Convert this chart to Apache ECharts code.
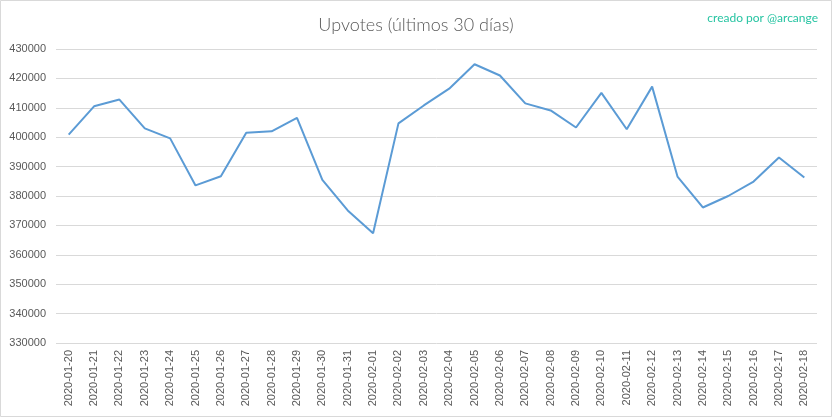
<!DOCTYPE html>
<html>
<head>
<meta charset="utf-8">
<script src="https://cdn.jsdelivr.net/npm/echarts@6/dist/echarts.min.js"></script>
<style>html,body{margin:0;padding:0;background:#fff}#c{width:832px;height:417px}</style>
</head>
<body>
<div id="c"></div>
<script>
const categories = ["2020-01-20","2020-01-21","2020-01-22","2020-01-23","2020-01-24","2020-01-25","2020-01-26","2020-01-27","2020-01-28","2020-01-29","2020-01-30","2020-01-31","2020-02-01","2020-02-02","2020-02-03","2020-02-04","2020-02-05","2020-02-06","2020-02-07","2020-02-08","2020-02-09","2020-02-10","2020-02-11","2020-02-12","2020-02-13","2020-02-14","2020-02-15","2020-02-16","2020-02-17","2020-02-18"];
const upvotes = [400900,410500,412800,403000,399600,383600,386700,401500,402000,406600,385500,375100,367300,404700,410800,416500,424800,421000,411500,409100,403300,415100,402700,417200,386600,376100,380000,384900,393100,386300];
const titleText = "Upvotes (últimos 30 días)";
const creditText = "creado por @arcange";

const chart = echarts.init(document.getElementById('c'));
chart.setOption({
  animation: false,
  backgroundColor: '#fff',
  title: [
    {text: titleText, left: 'center', top: 11, textStyle: {fontFamily: 'Lato', fontSize: 18, fontWeight: 300, color: '#595959'}},
    {text: creditText, right: 9, top: 7, textStyle: {fontFamily: 'Lato', fontSize: 12, fontWeight: 'normal', color: '#26c4a2'}}
  ],
  graphic: [{type: 'rect', shape: {x: 0.5, y: 0.5, width: 831, height: 416}, style: {fill: 'none', stroke: '#d9d9d9', lineWidth: 1}, silent: true}],
  grid: {left: 56, right: 15, top: 49, bottom: 74},
  xAxis: {
    type: 'category', data: categories, boundaryGap: true,
    axisLine: {show: false}, axisTick: {show: false},
    axisLabel: {rotate: 90, interval: 0, fontFamily: 'Liberation Sans', fontSize: 11, color: '#595959', margin: 7}
  },
  yAxis: {
    type: 'value', min: 330000, max: 430000, interval: 10000,
    axisLine: {show: false}, axisTick: {show: false},
    axisLabel: {fontFamily: 'Liberation Sans', fontSize: 11, color: '#595959', margin: 10, formatter: v => String(v)},
    splitLine: {lineStyle: {color: '#d9d9d9', width: 1}}
  },
  series: [{type: 'line', data: upvotes, symbol: 'none', lineStyle: {color: '#5b9bd5', width: 2}}]
});
</script>
</body>
</html>
